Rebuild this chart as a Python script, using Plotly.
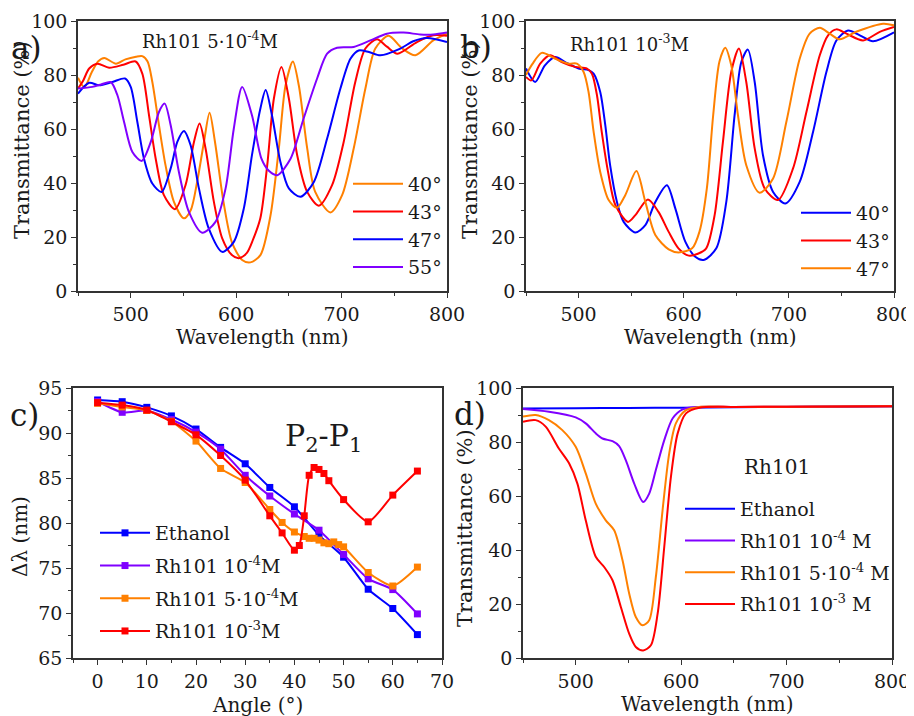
import plotly.graph_objects as go

# ---------------- Panel a: Rh101 5e-4 M, angles ----------------
a40_wl = [450, 456, 463, 469, 475, 486, 495, 505, 511, 516, 520.5, 526.8, 533, 541, 550.5, 557, 563, 569.4, 574.8,
          580, 588, 596, 605.7, 613.6, 623, 632.6, 640.5, 646.8, 653.8, 659.5, 667.4, 675, 689.4, 700.5, 711.5,
          722.6, 732, 744.6, 757, 770, 787, 800]
a40_T = [79, 75.5, 81, 85, 86.3, 84.2, 85.8, 86.8, 87, 85, 77.4, 61.4, 46.6, 33, 26.9, 30, 40.4, 55, 66,
         55, 33, 18, 11.5, 10.6, 13.3, 28, 52.8, 76, 85, 76, 52.8, 36.7, 29.1, 35.5, 52.8,
         75, 89.8, 94.5, 90, 87.3, 92.8, 95.3]

a43_wl = [450, 455, 460.6, 468.5, 479.5, 493, 504.7, 511, 517.4, 523.7, 531.5, 542, 552, 560, 565.3, 571, 578.9,
          586.8, 596, 602.5, 610, 616, 623, 629.5, 635.8, 643, 650, 657.9, 667.4, 678.4, 691, 702, 713, 722.6,
          733.6, 743, 753, 771.5, 787, 800]
a43_T = [75, 78, 82.4, 84.2, 82.7, 83.8, 85, 80.5, 65, 49, 35.5, 30.3, 39.2, 55.2, 62, 52.8, 33,
         19.5, 13.3, 12.1, 14, 19, 27, 46.6, 71.3, 83, 71.3, 50.3, 36.7, 31.6, 39.2, 55.2, 77.4, 89.8,
         93.2, 90.5, 87.9, 92.2, 94.7, 94.5]

a47_wl = [450, 460.6, 470, 482.6, 494.6, 500, 506.3, 512.6, 520.5, 529.3, 537.9, 544.2, 550.5, 556.8, 564.7, 574,
          586.8, 597.8, 607.3, 615, 623, 628, 634, 642, 650, 661, 673.7, 686.3, 698.9, 708.4, 716.2, 726, 736.8,
          755.7, 768, 781, 800]
a47_T = [73.1, 77.1, 76.2, 77.4, 78.7, 75.6, 62.6, 49, 39.8, 36.7, 45.4, 55.2, 59.3, 54, 38, 23.2,
         14.5, 18.2, 30.6, 50.3, 67.6, 74.4, 65, 47.8, 38, 34.9, 40.4, 56.5, 75, 86, 89.1, 88.5, 87.3,
         89.8, 92.5, 93.7, 92.2]

a55_wl = [450, 463.7, 472, 481, 487.4, 493.7, 501.6, 510.4, 519, 526.8, 532.2, 537.9, 545.7, 555.2, 567.8, 580.4,
          590, 597.8, 605.7, 615, 624, 631, 639, 651.6, 664, 676.8, 686.3, 695.7, 711.5, 727.3, 743, 758.8, 774.6,
          787, 800]
a55_T = [75, 75.6, 76.5, 77.4, 72.5, 62.6, 51.5, 48.2, 55.2, 66.3, 69.4, 61.4, 44.1, 29.3, 21.6, 25.6,
         38, 60.2, 75.6, 65.1, 49, 44.5, 42.9, 49, 63.9, 78.7, 87.9, 90.1, 90.4, 92.8, 95.3, 95.7, 95,
         95, 95.7]

# ---------------- Panel b: Rh101 1e-3 M, angles ----------------
b40_wl = [450, 458.7, 468, 477.8, 487.3, 500, 509.5, 514.3, 520.6, 525.4, 530, 536.5, 542.9, 554, 563.5, 573, 584,
          592, 601.6, 611, 619, 631, 640.5, 648.4, 654.8, 661, 667.5, 675.4, 685, 696.7, 710.3, 723, 735.7, 745.2,
          756.3, 767.5, 780, 800]
b40_T = [82.4, 77.4, 83.6, 86.7, 84.8, 82.4, 81.8, 80.5, 73.7, 61.4, 46.6, 33, 25.6, 21.7, 24.4, 33, 39.2,
         30.6, 18.2, 12.7, 11.5, 15.8, 33, 65.1, 84.8, 89.4, 77.4, 50.3, 36.7, 32.4, 40.4, 58.9, 81.1, 92.8,
         96.5, 94.7, 92.5, 95.8]

b43_wl = [450, 455, 463.5, 473, 484, 496.8, 508, 512.7, 517.5, 522, 528.6, 535, 547, 554, 566, 576, 585.7, 595,
          604.8, 614, 621.4, 629.4, 637.3, 645.2, 652.5, 659.5, 667.5, 677, 689.7, 704, 716.7, 729.4, 737.3, 745.2,
          754.8, 770.6, 786.5, 800]
b43_T = [79.3, 78, 84.2, 87.3, 84.8, 83, 82.4, 80.5, 72.5, 59, 42.9, 31.8, 25.6, 28.1, 33.9, 29.3, 21.9, 15.8,
         13.1, 13.9, 15.8, 28.1, 55.2, 81.1, 89.8, 77.4, 52.8, 38, 33.7, 45.4, 66.3, 87.3, 94.7, 96.9,
         95.3, 92.8, 96, 97.8]

b47_wl = [450, 456, 465, 477.8, 490.5, 498.4, 504.8, 509.5, 514.3, 520.6, 528.6, 536.5, 544.4, 555, 563.5, 573,
          585.7, 595, 608, 615, 622, 628, 634, 639.5, 645.2, 651.6, 659.5, 672.2, 685, 697.6, 710.3, 719.8, 729.4,
          738.9, 748.4, 764, 789.7, 800]
b47_T = [80, 84, 88.2, 86, 84.2, 84.2, 81.1, 73.7, 59, 44.1, 33.7, 30.8, 35.5, 44.4, 33, 20.7,
         15.4, 14.3, 15.8, 22, 38, 65, 85, 90.1, 83.6, 65.1, 46.6, 36.4, 41.7, 62.6, 86, 95.3, 97.5,
         95.3, 93.2, 96, 99, 98.4]

# ---------------- Panel c: P2-P1 vs angle ----------------
c_eth_ang = [0, 5, 10, 15, 20, 25, 30, 35, 40, 45, 50, 55, 60, 65]
c_eth = [93.67, 93.48, 92.85, 91.9, 90.44, 88.4, 86.58, 83.95, 81.8, 78.65, 76.2, 72.64, 70.5, 67.6]
c_1e4_ang = [0, 5, 10, 15, 20, 25, 30, 35, 40, 45, 50, 55, 60, 65]
c_1e4 = [93.5, 92.3, 92.5, 91.5, 90.1, 88.2, 85.3, 83.0, 81.0, 79.2, 76.5, 73.8, 72.6, 69.9]
c_5e4_ang = [0, 5, 10, 15, 20, 25, 30, 35, 37.5, 40, 42, 43, 44, 45, 46, 47, 48, 49, 50, 55, 60, 65]
c_5e4 = [93.3, 92.9, 92.5, 91.3, 89.1, 86.06, 84.5, 81.5, 80.06, 79.0, 78.5, 78.3, 78.3, 78.1, 77.8, 77.7,
         77.9, 77.6, 77.35, 74.5, 73.0, 75.1]
c_1e3_ang = [0, 5, 10, 15, 20, 25, 30, 35, 37.5, 40, 41, 42, 43, 44, 45, 46, 47, 50, 55, 60, 65]
c_1e3 = [93.37, 93.1, 92.55, 91.25, 89.8, 87.5, 84.77, 80.8, 78.9, 76.98, 77.5, 80.8, 85.3, 86.17, 85.95,
         85.5, 84.7, 82.6, 80.13, 83.1, 85.77]

# ---------------- Panel d: concentration spectra ----------------
d_eth_wl = [450, 500, 550, 600, 650, 700, 750, 800]
d_eth = [92.4, 92.5, 92.6, 92.7, 92.9, 93.0, 93.1, 93.2]
d_1e4_wl = [450, 474.6, 500, 509.5, 519, 525.4, 534.9, 541.2, 547.5, 555.5, 564, 569.7, 576, 584, 592, 601.4,
            614, 650, 700, 800]
d_1e4 = [92.2, 91.2, 89.1, 86.9, 83.2, 81.3, 80.3, 78.5, 73.3, 64.6, 57.8, 60.9, 69.6, 80.7, 88.8, 92.1,
         93.0, 93.0, 93.1, 93.2]
d_5e4_wl = [450, 462, 474.6, 487.3, 500, 509.5, 519, 528.5, 536.5, 544.4, 550.7, 557, 563.4, 569.7, 576, 582.4,
            588.7, 595, 604.6, 617.3, 650, 700, 800]
d_5e4 = [89.4, 90, 88.1, 84.4, 78.2, 68.4, 57.2, 51, 47.3, 36.2, 23.9, 15.2, 12.1, 14, 30, 54.8,
         75.8, 86.9, 91.8, 93.0, 93.0, 93.1, 93.2]
d_1e3_wl = [450, 462, 471.5, 484, 493.7, 501.6, 509.5, 519, 527, 534.9, 542.8, 550.7, 557, 564, 571.3, 577.7,
            584, 590.3, 596.7, 604.6, 617.3, 650, 700, 800]
d_1e3 = [87.5, 88.1, 85.7, 77.6, 72.1, 64.6, 51, 37.5, 33.7, 28.8, 18.9, 9, 4.1, 2.8, 4.7, 16.4,
         41.2, 67.1, 83.2, 90.6, 92.7, 93, 93.1, 93.2]

BLUE = "#0000FF"
RED = "#FF0000"
ORANGE = "#FF8000"
PURPLE = "#8000FF"
FONT = "DejaVu Serif"
TXT = "#1a1a1a"
AX = "#333333"

fig = go.Figure()


def line(x, y, color, name, xa, ya, leg, group=None):
    fig.add_trace(go.Scatter(x=x, y=y, mode="lines", name=name,
                             line=dict(color=color, width=2, shape="spline", smoothing=0.8),
                             xaxis=xa, yaxis=ya, legend=leg, legendgroup=group))


line(a40_wl, a40_T, ORANGE, "40°", "x", "y", "legend")
line(a43_wl, a43_T, RED, "43°", "x", "y", "legend")
line(a47_wl, a47_T, BLUE, "47°", "x", "y", "legend")
line(a55_wl, a55_T, PURPLE, "55°", "x", "y", "legend")

line(b40_wl, b40_T, BLUE, "40°", "x2", "y2", "legend2")
line(b43_wl, b43_T, RED, "43°", "x2", "y2", "legend2")
line(b47_wl, b47_T, ORANGE, "47°", "x2", "y2", "legend2")


def mline(x, y, color, name, group):
    fig.add_trace(go.Scatter(x=x, y=y, mode="lines+markers", name=name,
                             line=dict(color=color, width=2, shape="spline", smoothing=0.6),
                             marker=dict(symbol="square", size=7, color=color),
                             xaxis="x3", yaxis="y3", legend="legend3", legendgroup=group))


mline(c_eth_ang, c_eth, BLUE, "Ethanol", "c1")
mline(c_1e4_ang, c_1e4, PURPLE, "Rh101 10<sup>-4</sup>M", "c2")
mline(c_5e4_ang, c_5e4, ORANGE, "Rh101 5·10<sup>-4</sup>M", "c3")
mline(c_1e3_ang, c_1e3, RED, "Rh101 10<sup>-3</sup>M", "c4")

line(d_eth_wl, d_eth, BLUE, "Ethanol", "x4", "y4", "legend4", "d1")
line(d_1e4_wl, d_1e4, PURPLE, "Rh101 10<sup>-4</sup> M", "x4", "y4", "legend4", "d2")
line(d_5e4_wl, d_5e4, ORANGE, "Rh101 5·10<sup>-4</sup> M", "x4", "y4", "legend4", "d3")
line(d_1e3_wl, d_1e3, RED, "Rh101 10<sup>-3</sup> M", "x4", "y4", "legend4", "d4")

# page has an 8px body margin: the figure starts at (8, 8) in the window
OFF = 8
W, H = 914 - OFF, 716 - OFF


def px_x(p):
    return (p - OFF) / W


def px_y(p):
    return 1 - (p - OFF) / H


def axis(domain, anchor, rng, dtick, minor_dtick, tick0=None):
    d = dict(domain=domain, anchor=anchor, range=rng, dtick=dtick, automargin=False,
             showgrid=False, zeroline=False, showline=True, linecolor=AX, linewidth=1.5,
             mirror=True, ticks="outside", ticklen=5, tickwidth=1.2, tickcolor=AX,
             tickfont=dict(family=FONT, size=19, color=TXT),
             minor=dict(dtick=minor_dtick, ticks="outside", ticklen=3, tickcolor=AX, showgrid=False))
    if tick0 is not None:
        d["tick0"] = tick0
        d["minor"]["tick0"] = tick0
    return d


def mirror_axis(over, anchor, side, rng, dtick, minor_dtick, tick0=None):
    d = dict(overlaying=over, anchor=anchor, side=side, range=rng, dtick=dtick, automargin=False,
             showgrid=False, zeroline=False, showline=False, showticklabels=False,
             ticks="inside", ticklen=4, tickwidth=1.2, tickcolor=AX,
             minor=dict(dtick=minor_dtick, ticks="inside", ticklen=3, tickcolor=AX, showgrid=False))
    if tick0 is not None:
        d["tick0"] = tick0
        d["minor"]["tick0"] = tick0
    return d


top_y = [px_y(291), px_y(21)]
bot_y = [px_y(658), px_y(388)]

fig.update_layout(
    width=W, height=H, margin=dict(l=0, r=0, t=0, b=0, autoexpand=False),
    paper_bgcolor="white", plot_bgcolor="white",
    font=dict(family=FONT, color=TXT),
    xaxis=axis([px_x(78), px_x(447)], "y", [450, 800], 100, 50),
    yaxis=axis(top_y, "x", [0, 100], 20, 10),
    xaxis2=axis([px_x(526), px_x(894)], "y2", [450, 800], 100, 50),
    yaxis2=axis(top_y, "x2", [0, 100], 20, 10),
    xaxis3=axis([px_x(73), px_x(442)], "y3", [-5, 70], 10, 5, tick0=0),
    yaxis3=axis(bot_y, "x3", [65, 95], 5, 2.5),
    xaxis4=axis([px_x(523), px_x(892)], "y4", [450, 800], 100, 50),
    yaxis4=axis(bot_y, "x4", [0, 100], 20, 10),
    # inner tick marks on the top and right frame lines
    xaxis5=mirror_axis("x", "y", "top", [450, 800], 100, 50),
    yaxis5=mirror_axis("y", "x", "right", [0, 100], 20, 10),
    xaxis6=mirror_axis("x2", "y2", "top", [450, 800], 100, 50),
    yaxis6=mirror_axis("y2", "x2", "right", [0, 100], 20, 10),
    xaxis7=mirror_axis("x3", "y3", "top", [-5, 70], 10, 5, tick0=0),
    yaxis7=mirror_axis("y3", "x3", "right", [65, 95], 5, 2.5),
    xaxis8=mirror_axis("x4", "y4", "top", [450, 800], 100, 50),
    yaxis8=mirror_axis("y4", "x4", "right", [0, 100], 20, 10),
)

leg_common = dict(bgcolor="rgba(0,0,0,0)", borderwidth=0, font=dict(family=FONT, size=19, color=TXT),
                  xanchor="left", yanchor="top", itemwidth=50, traceorder="normal")
fig.update_layout(
    legend=dict(x=px_x(348), y=px_y(165), **leg_common),
    legend2=dict(x=px_x(796), y=px_y(194), **leg_common),
    legend3=dict(x=px_x(95), y=px_y(514), tracegroupgap=5, **{**leg_common, "traceorder": "grouped"}),
    legend4=dict(x=px_x(680), y=px_y(490), tracegroupgap=4, **{**leg_common, "traceorder": "grouped"}),
)

ann = []


def text(s, x, y, size, xanchor="center", angle=0):
    ann.append(dict(text=s, x=px_x(x), y=px_y(y), xref="paper", yref="paper", showarrow=False,
                    xanchor=xanchor, yanchor="middle", textangle=angle,
                    font=dict(family=FONT, size=size, color=TXT)))


# panel labels
text("a)", 26, 48, 31)
text("b)", 476, 47, 31)
text("c)", 24, 415, 31)
text("d)", 470, 414, 31)
# inner titles
text("Rh101 5·10<sup>-4</sup>M", 140, 40, 18, "left")
text("Rh101 10<sup>-3</sup>M", 568, 43, 18, "left")
text("Rh101", 742, 467, 20, "left")
text("P<sub>2</sub>-P<sub>1</sub>", 323, 437, 30)
# axis titles
text("Wavelength (nm)", 262, 337, 20)
text("Wavelength (nm)", 710, 337, 20)
text("Angle (°)", 257, 705, 20)
text("Wavelength (nm)", 707, 704, 20)
text("Transmittance (%)", 22, 140, 21, angle=-90)
text("Transmittance (%)", 470, 140, 21, angle=-90)
text("Δλ (nm)", 20, 537, 20, angle=-90)
text("Transmittance (%)", 465, 528, 21, angle=-90)
fig.update_layout(annotations=ann)

fig.write_html("out.html")
